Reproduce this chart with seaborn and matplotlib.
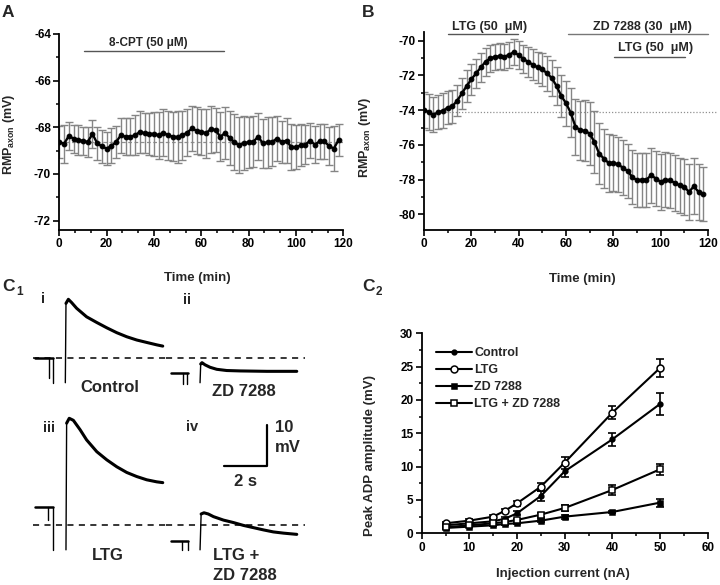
import numpy as np
import pandas as pd
import matplotlib
matplotlib.use('Agg')
import matplotlib.pyplot as plt
import seaborn as sns
from matplotlib.ticker import MultipleLocator

# ---------------- data ----------------
# A / B: RMP of the axon over time (every 2 min)
time_min = list(range(0, 120, 2))

rmp_8cpt = [-68.63, -68.71, -68.37, -68.48, -68.54, -68.58, -68.63, -68.28, -68.68, -68.82,
            -68.91, -68.80, -68.63, -68.34, -68.40, -68.40, -68.34, -68.20, -68.25, -68.28,
            -68.28, -68.34, -68.23, -68.34, -68.40, -68.42, -68.34, -68.23, -68.05, -68.14,
            -68.20, -68.25, -68.08, -68.11, -68.40, -68.25, -68.45, -68.65, -68.77, -68.68,
            -68.64, -68.62, -68.40, -68.68, -68.65, -68.62, -68.48, -68.62, -68.57, -68.85,
            -68.85, -68.77, -68.74, -68.57, -68.74, -68.60, -68.60, -68.80, -68.91, -68.54]
sem_8cpt = [0.70, 0.80, 0.60, 0.60, 0.65, 0.60, 0.65, 0.60, 0.70, 0.70,
            0.70, 0.75, 0.70, 0.75, 0.80, 0.80, 0.85, 0.90, 0.85, 0.90,
            0.95, 1.00, 1.00, 1.05, 1.05, 1.10, 1.05, 1.00, 0.95, 1.00,
            1.00, 1.05, 1.00, 0.95, 1.05, 1.10, 1.15, 1.20, 1.20, 1.15,
            1.10, 1.10, 1.00, 1.05, 1.10, 1.05, 0.95, 0.90, 0.95, 1.00,
            0.95, 0.90, 0.85, 0.75, 0.80, 0.75, 0.75, 0.80, 0.95, 0.70]
baseline_8cpt = -68.63

rmp_ltg = [-74.00, -74.11, -74.27, -74.11, -74.04, -73.85, -73.77, -73.46, -73.04, -72.61,
           -72.23, -71.88, -71.54, -71.21, -71.02, -70.92, -70.90, -70.92, -70.81, -70.65,
           -70.84, -71.04, -71.23, -71.38, -71.54, -71.65, -71.88, -72.15, -72.61, -73.18,
           -73.60, -74.15, -74.96, -75.15, -75.19, -75.35, -75.83, -76.50, -76.79, -77.04,
           -77.04, -77.12, -77.31, -77.50, -77.85, -78.04, -78.00, -78.00, -77.75, -77.94,
           -78.13, -78.00, -78.04, -78.19, -78.33, -78.42, -78.71, -78.38, -78.71, -78.85]
sem_ltg = [1.05, 1.05, 1.00, 1.00, 1.00, 0.95,
           0.95, 0.90, 0.90, 0.90, 0.90, 0.85, 0.85, 0.80, 0.80,
           0.75, 0.75, 0.75, 0.75, 0.75, 0.80,
           0.80, 0.85, 0.90, 0.90, 0.95, 1.00, 1.05, 1.10,
           1.20, 1.30, 1.40, 1.60, 1.70, 1.75, 1.80,
           1.80, 1.75, 1.70, 1.65, 1.60, 1.60, 1.60, 1.55, 1.55, 1.55,
           1.55, 1.55, 1.60, 1.60, 1.60, 1.60, 1.60, 1.60, 1.60, 1.60, 1.60, 1.60, 1.60, 1.55]
baseline_ltg = -74.1

# C2: peak ADP amplitude vs injection current
inj_current = [5, 10, 15, 17.5, 20, 25, 30, 40, 50]
adp_control = [1.2, 1.5, 1.8, 2.2, 3.0, 5.6, 9.3, 14.1, 19.4]
adp_control_err = [0.15, 0.15, 0.2, 0.2, 0.3, 0.7, 0.9, 1.0, 1.7]
adp_ltg = [1.5, 1.9, 2.5, 3.4, 4.5, 7.0, 10.6, 18.1, 24.8]
adp_ltg_err = [0.2, 0.2, 0.2, 0.25, 0.4, 0.6, 0.9, 1.0, 1.3]
adp_zd = [0.8, 1.0, 1.2, 1.4, 1.5, 1.9, 2.5, 3.2, 4.6]
adp_zd_err = [0.1, 0.1, 0.1, 0.15, 0.15, 0.2, 0.3, 0.2, 0.6]
adp_ltg_zd = [0.9, 1.2, 1.5, 1.7, 2.0, 2.8, 3.8, 6.5, 9.6]
adp_ltg_zd_err = [0.15, 0.15, 0.2, 0.2, 0.2, 0.3, 0.4, 0.8, 0.8]

# C1: example traces (time in s from end of pulse, voltage in mV from baseline)
trace_i_t = [0, 0.03, 0.14, 0.29, 0.52, 0.98, 1.45, 1.91, 2.37, 2.83, 3.29, 3.75, 4.22, 4.49]
trace_i_v = [-6.0, 13.5, 14.5, 13.7, 12.3, 10.2, 8.8, 7.5, 6.3, 5.3, 4.5, 3.9, 3.3, 3.0]
trace_ii_t = [0, 0.03, 0.09, 0.23, 0.46, 0.77, 1.23, 1.85, 3.08, 4.46]
trace_ii_v = [-6.0, -1.4, -1.07, -1.6, -2.2, -2.7, -3.0, -3.1, -3.2, -3.2]
trace_iii_t = [0, 0.03, 0.15, 0.34, 0.65, 0.95, 1.42, 1.88, 2.34, 2.80, 3.26, 3.72, 4.18, 4.46]
trace_iii_v = [-6.1, 25.0, 26.2, 25.7, 23.4, 20.9, 18.0, 16.0, 14.3, 12.9, 11.9, 11.1, 10.6, 10.4]
trace_iv_t = [0, 0.05, 0.18, 0.38, 0.62, 1.08, 1.54, 2.00, 2.46, 2.92, 3.38, 3.85, 4.46]
trace_iv_v = [-6.1, 2.7, 3.0, 2.7, 2.05, 1.2, 0.6, -0.1, -0.65, -1.2, -1.7, -2.0, -2.3]
# pre-pulse segment: (start, end, level); artifact lines: (time, bottom)
pre_i = (-1.40, -0.55, 0.0)
pre_ii = (-1.35, -0.54, -3.5)
pre_iii = (-1.43, -0.58, 4.5)
pre_iv = (-1.35, -0.54, -3.85)
art_i = [(-0.74, -4.9), (-0.55, -6.1)]
art_ii = [(-0.77, -6.3), (-0.58, -6.3)]
art_iii = [(-0.85, 1.2), (-0.58, -6.1)]
art_iv = [(-0.85, -6.1), (-0.54, -6.1)]
scale_s = 2
scale_mv = 10

# ---------------- style ----------------
sns.set_style('ticks')
plt.rcParams['font.family'] = ['Liberation Sans', 'DejaVu Sans']
plt.rcParams['font.weight'] = 'bold'
plt.rcParams['axes.labelweight'] = 'bold'
plt.rcParams['axes.unicode_minus'] = False
plt.rcParams['mathtext.fontset'] = 'custom'
plt.rcParams['mathtext.rm'] = 'Liberation Sans:bold'
plt.rcParams['mathtext.it'] = 'Liberation Sans:bold'
plt.rcParams['mathtext.bf'] = 'Liberation Sans:bold'

W, H = 720, 585
fig = plt.figure(figsize=(W / 100, H / 100), dpi=100)


def px_axes(left, top, right, bottom):
    return fig.add_axes([left / W, 1 - bottom / H, (right - left) / W, (bottom - top) / H])


def fig_text(x, y, s, **kw):
    fig.text(x / W, 1 - y / H, s, **kw)


def style_axes(ax):
    for s in ['top', 'right']:
        ax.spines[s].set_visible(False)
    for s in ['left', 'bottom']:
        ax.spines[s].set_linewidth(1.3)
        ax.spines[s].set_color('k')
    ax.tick_params(which='major', direction='out', length=4, width=1.2, labelsize=8.5, pad=2, colors='k')
    ax.tick_params(which='minor', direction='out', length=2.5, width=1.1, colors='k')


def rmp_panel(ax, rmp, sem):
    ax.errorbar(time_min, rmp, yerr=sem, fmt='none', ecolor='#858585', elinewidth=1.0,
                capsize=2.6, capthick=1.0, zorder=1)
    sns.lineplot(x=time_min, y=rmp, ax=ax, color='k', marker='o', markersize=3.4,
                 markeredgecolor='k', linewidth=1.7, errorbar=None, zorder=3)
    ax.set_xlim(0, 120)
    ax.xaxis.set_major_locator(MultipleLocator(20))
    ax.yaxis.set_major_locator(MultipleLocator(2))
    ax.yaxis.set_minor_locator(MultipleLocator(1))
    ax.set_xlabel('Time (min)', fontsize=9.5)
    ax.set_ylabel(r'RMP$_{\mathrm{axon}}$ (mV)', fontsize=9)
    style_axes(ax)


# ---------------- panel A ----------------
axA = px_axes(59.3, 34, 343.3, 230)
axA.axhline(baseline_8cpt, color='#909090', lw=0.9, ls=(0, (3, 2)), zorder=0)
rmp_panel(axA, rmp_8cpt, sem_8cpt)
axA.set_ylim(-72.4, -64)
axA.xaxis.set_minor_locator(MultipleLocator(20 / 3))
axA.plot([10.4, 69.6], [-64.71, -64.71], color='#555555', lw=1.0, clip_on=False)
axA.text(37.6, -64.38, '8-CPT (50 μM)', ha='center', va='center', fontsize=8.5)
axA.xaxis.set_label_coords(0.485, -0.215)
axA.yaxis.set_label_coords(-0.148, 0.49)

# ---------------- panel B ----------------
axB = px_axes(424, 32, 708, 230)
axB.plot([0, 124], [baseline_ltg, baseline_ltg], color='#909090', lw=0.9, ls=(0, (1, 1.5)),
         zorder=0, clip_on=False)
rmp_panel(axB, rmp_ltg, sem_ltg)
axB.set_ylim(-80.9, -69.5)
axB.xaxis.set_minor_locator(MultipleLocator(10))
axB.plot([10.3, 39.9], [-69.63, -69.63], color='#555555', lw=1.0, clip_on=False)
axB.text(27.9, -69.22, 'LTG (50  μM)', ha='center', va='center', fontsize=9)
axB.plot([60.9, 120], [-69.63, -69.63], color='#777777', lw=1.0, clip_on=False)
axB.text(92.3, -69.22, 'ZD 7288 (30  μM)', ha='center', va='center', fontsize=9)
axB.plot([80.3, 110.3], [-70.92, -70.92], color='#555555', lw=1.0, clip_on=False)
axB.text(97.8, -70.44, 'LTG (50  μM)', ha='center', va='center', fontsize=9)
axB.xaxis.set_label_coords(0.556, -0.215)
axB.yaxis.set_label_coords(-0.18, 0.47)

# ---------------- panel C1 ----------------
traces = [
    ((33, 293.2, 166, 386.8), (-1.49, 4.64), (-7, 16), trace_i_t, trace_i_v, pre_i, art_i),
    ((166, 293.2, 305, 386.8), (-1.57, 4.84), (-7, 16), trace_ii_t, trace_ii_v, pre_ii, art_ii),
    ((33, 413, 166, 553.5), (-1.52, 4.61), (-7, 27.5), trace_iii_t, trace_iii_v, pre_iii, art_iii),
    ((166, 413, 305, 553.5), (-1.57, 4.84), (-7, 27.5), trace_iv_t, trace_iv_v, pre_iv, art_iv),
]
c1_axes = []
for box, xl, yl, tt, vv, pre, art in traces:
    ax = px_axes(*box)
    ax.axhline(0, color='k', lw=1.1, ls=(0, (4, 3.5)))
    ax.plot([pre[0], pre[1]], [pre[2], pre[2]], color='k', lw=1.8)
    for ta, vb in art:
        ax.plot([ta, ta], [pre[2], vb], color='k', lw=1.0)
    ax.plot(tt[:2], vv[:2], color='k', lw=1.0)
    sns.lineplot(x=tt[1:], y=vv[1:], ax=ax, color='k', linewidth=2.2, errorbar=None)
    ax.set_xlim(*xl)
    ax.set_ylim(*yl)
    ax.axis('off')
    c1_axes.append(ax)

# scale bar in panel iv
ax_iv = c1_axes[3]
ax_iv.plot([1.1, 1.1 + scale_s, 1.1 + scale_s], [14.6, 14.6, 14.6 + scale_mv], color='k', lw=1.6,
           clip_on=False)

fig_text(42.5, 299, 'i', ha='center', va='center', fontsize=10.5)
fig_text(187, 300, 'ii', ha='center', va='center', fontsize=10.5)
fig_text(49, 428, 'iii', ha='center', va='center', fontsize=10.5)
fig_text(191.7, 427, 'iv', ha='center', va='center', fontsize=10.5)
fig_text(110.3, 388, 'Control', ha='center', va='center', fontsize=12)
fig_text(244, 391, 'ZD 7288', ha='center', va='center', fontsize=12)
fig_text(108.3, 555, 'LTG', ha='center', va='center', fontsize=12)
fig_text(213.3, 555.3, 'LTG +', ha='left', va='center', fontsize=12)
fig_text(213.3, 575.8, 'ZD 7288', ha='left', va='center', fontsize=12)
fig_text(275, 427.5, '10', ha='left', va='center', fontsize=12)
fig_text(275, 447.5, 'mV', ha='left', va='center', fontsize=12)
fig_text(245.8, 481, '2 s', ha='center', va='center', fontsize=12)

# ---------------- panel C2 ----------------
axC = px_axes(421.7, 333.3, 707.7, 533.3)
series = [
    ('Control', adp_control, adp_control_err, 'o', 3.4, 'k'),
    ('LTG', adp_ltg, adp_ltg_err, 'o', 5.0, 'white'),
    ('ZD 7288', adp_zd, adp_zd_err, 's', 3.6, 'k'),
    ('LTG + ZD 7288', adp_ltg_zd, adp_ltg_zd_err, 's', 5.0, 'white'),
]
handles = []
for name, vals, err, mk, ms, fc in series:
    axC.errorbar(inj_current, vals, yerr=err, fmt='none', ecolor='k', elinewidth=1.2,
                 capsize=3, capthick=1.2, zorder=2)
    sns.lineplot(x=inj_current, y=vals, ax=axC, color='k', linewidth=1.5, marker=mk,
                 markersize=ms, markerfacecolor=fc, markeredgecolor='k', markeredgewidth=1.1,
                 errorbar=None, legend=False, zorder=3)
    handles.append(axC.lines[-1])
axC.set_xlim(0, 60)
axC.set_ylim(0, 30)
axC.xaxis.set_major_locator(MultipleLocator(10))
axC.xaxis.set_minor_locator(MultipleLocator(5))
axC.yaxis.set_major_locator(MultipleLocator(5))
axC.yaxis.set_minor_locator(MultipleLocator(2.5))
axC.set_xlabel('Injection current (nA)', fontsize=9.5)
axC.set_ylabel('Peak ADP amplitude (mV)', fontsize=9.5)
axC.xaxis.set_label_coords(0.494, -0.175)
axC.yaxis.set_label_coords(-0.16, 0.39)
style_axes(axC)
axC.legend(handles, [s[0] for s in series], loc='upper left', bbox_to_anchor=(0.05, 0.93),
           frameon=False, handlelength=2.9, handletextpad=0.15, labelspacing=0.4,
           borderaxespad=0, borderpad=0, prop={'weight': 'bold', 'size': 9})

# ---------------- panel letters ----------------
fig_text(2, 17, 'A', ha='left', va='baseline', fontsize=12.5)
fig_text(362, 17, 'B', ha='left', va='baseline', fontsize=12.5)
fig_text(2, 291, 'C', ha='left', va='baseline', fontsize=12.5)
fig_text(16, 295, '1', ha='left', va='baseline', fontsize=8.5)
fig_text(362, 291, 'C', ha='left', va='baseline', fontsize=12.5)
fig_text(376, 295, '2', ha='left', va='baseline', fontsize=8.5)

fig.savefig('out.png', dpi=100)
